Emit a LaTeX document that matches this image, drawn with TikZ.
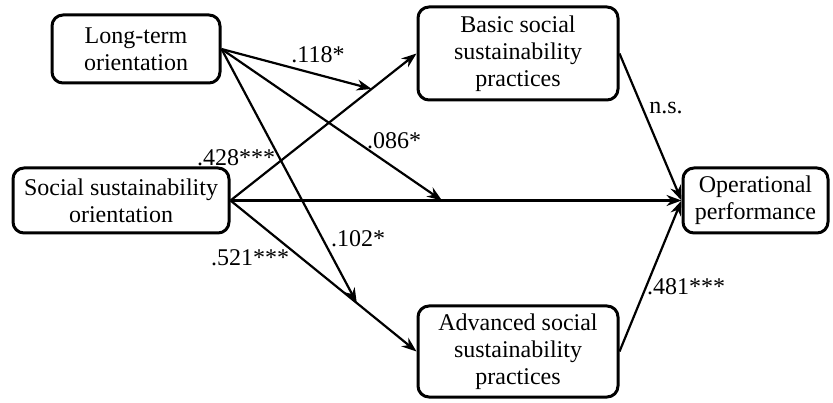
\documentclass[tikz,border=0pt]{standalone}
\usepackage{fontspec}
\setmainfont{Liberation Serif}
\usetikzlibrary{calc,arrows.meta}
\begin{document}
\begin{tikzpicture}[x=1pt,y=-1pt,
  box/.style={draw,line width=3pt,rounded corners=11pt,align=center,inner sep=0pt,
    font=\fontsize{24}{27}\selectfont},
  lbl/.style={inner sep=0pt,font=\fontsize{24}{27}\selectfont},
  arr/.style={line width=2.2pt,-{Stealth[length=15pt,width=11pt]}}]
\useasboundingbox (0,0) rectangle (833,403);
\node[box,minimum width=168pt,minimum height=68pt] (lto) at (136,49) {Long-term\\orientation};
\node[box,minimum width=216pt,minimum height=65pt] (sso) at (121,200.5) {Social sustainability\\orientation};
\node[box,minimum width=200pt,minimum height=93pt] (bssp) at (518,53.5) {Basic social\\sustainability\\practices};
\node[box,minimum width=200pt,minimum height=91pt] (assp) at (518,351.5) {Advanced social\\sustainability\\practices};
\node[box,minimum width=145pt,minimum height=65pt] (op) at (755.5,200.5) {Operational\\performance};
\coordinate (m1) at ($(sso.east)!0.759!(bssp.west)$);
\coordinate (m2) at ($(sso.east)!0.469!(op.west)$);
\coordinate (m3) at ($(sso.east)!0.679!(assp.west)$);
\draw[arr] (sso.east) -- (bssp.west);
\draw[arr] (sso.east) -- (op.west);
\draw[arr] (sso.east) -- (assp.west);
\draw[arr] (bssp.east) -- (op.west);
\draw[arr] (assp.east) -- (op.west);
\draw[arr] (lto.east) -- (m1);
\draw[arr] (lto.east) -- (m2);
\draw[arr] (lto.east) -- (m3);
\node[lbl] (l1) at (318,55) {.118*};
\node[lbl] (l2) at (394,141) {.086*};
\node[lbl] (l3) at (236,158) {.428***};
\node[lbl] (l4) at (358,239) {.102*};
\node[lbl] (l5) at (250,258) {.521***};
\node[lbl] (l6) at (666,108) {n.s.};
\node[lbl] (l7) at (686,287) {.481***};
\end{tikzpicture}
\end{document}
